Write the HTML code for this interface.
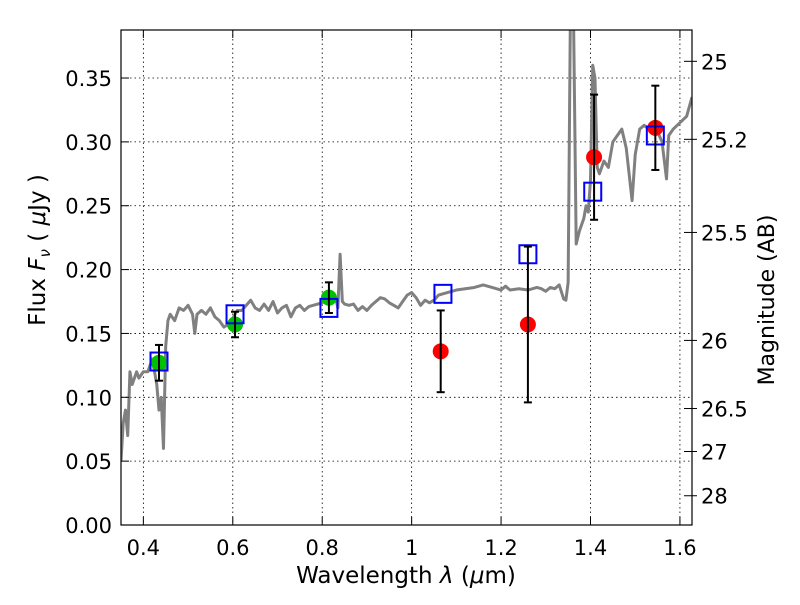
<!DOCTYPE html>
<html><head><meta charset="utf-8"><style>
body{margin:0;background:#fff}
svg text{font-family:"DejaVu Sans","Liberation Sans",sans-serif;fill:#000}
</style></head><body>
<svg id="chart" width="800" height="600" xmlns="http://www.w3.org/2000/svg">
<rect width="800" height="600" fill="#fff"/>
<g id="grid"></g>
<g id="marks"></g>
<rect x="121" y="30" width="571" height="495" fill="none" stroke="#000" stroke-width="1.2"/>
<g id="axes"></g>
<text x="406" y="583" font-size="23" text-anchor="middle">Wavelength  <tspan font-style="italic">λ</tspan> (<tspan font-style="italic">μ</tspan>m)</text>
<text transform="translate(45,250) rotate(-90)" font-size="23" text-anchor="middle">Flux  <tspan font-style="italic">F</tspan><tspan font-style="italic" font-size="15" dy="5">ν</tspan><tspan dy="-5">  (  </tspan><tspan font-style="italic">μ</tspan>Jy )</text>
<text transform="translate(774,300) rotate(-90)" font-size="22" text-anchor="middle">Magnitude (AB)</text>
</svg>
<script>
const xTicks=[0.4,0.6,0.8,1.0,1.2,1.4,1.6];
const xTickLabels=["0.4","0.6","0.8","1","1.2","1.4","1.6"];
const yTicks=[0,0.05,0.10,0.15,0.20,0.25,0.30,0.35];
const yTickLabels=["0.00","0.05","0.10","0.15","0.20","0.25","0.30","0.35"];
const magTicks=[25,25.2,25.5,26,26.5,27,28];
const magTickLabels=["25","25.2","25.5","26","26.5","27","28"];
const specX=[0.35,0.355,0.36,0.365,0.37,0.375,0.385,0.39,0.40,0.41,0.42,0.43,0.435,0.44,0.445,0.45,0.455,0.46,0.47,0.48,0.49,0.50,0.51,0.515,0.52,0.53,0.54,0.55,0.56,0.57,0.58,0.59,0.60,0.61,0.62,0.63,0.64,0.65,0.66,0.67,0.68,0.69,0.70,0.71,0.72,0.73,0.74,0.75,0.76,0.77,0.78,0.79,0.80,0.81,0.82,0.83,0.835,0.84,0.845,0.85,0.86,0.87,0.88,0.89,0.90,0.91,0.92,0.93,0.94,0.95,0.96,0.97,0.98,0.99,1.00,1.01,1.02,1.03,1.04,1.05,1.06,1.07,1.08,1.10,1.12,1.14,1.16,1.18,1.20,1.21,1.22,1.24,1.26,1.28,1.29,1.30,1.31,1.32,1.33,1.34,1.345,1.35,1.355,1.362,1.368,1.375,1.385,1.39,1.395,1.40,1.405,1.41,1.415,1.42,1.43,1.44,1.45,1.46,1.47,1.48,1.493,1.50,1.51,1.52,1.53,1.54,1.55,1.56,1.57,1.575,1.585,1.60,1.615,1.627];
const specY=[0.05,0.08,0.09,0.07,0.12,0.11,0.12,0.115,0.12,0.12,0.13,0.11,0.09,0.10,0.06,0.14,0.16,0.165,0.16,0.17,0.168,0.172,0.165,0.15,0.165,0.168,0.165,0.17,0.163,0.16,0.155,0.157,0.162,0.168,0.168,0.172,0.176,0.17,0.168,0.173,0.168,0.175,0.166,0.17,0.172,0.163,0.17,0.172,0.168,0.171,0.172,0.173,0.174,0.177,0.177,0.178,0.17,0.212,0.175,0.173,0.172,0.173,0.168,0.171,0.168,0.172,0.175,0.178,0.177,0.174,0.172,0.170,0.175,0.180,0.182,0.178,0.172,0.176,0.174,0.176,0.180,0.181,0.182,0.184,0.185,0.186,0.188,0.186,0.184,0.187,0.184,0.185,0.184,0.186,0.185,0.183,0.186,0.185,0.188,0.177,0.176,0.19,0.40,0.40,0.22,0.23,0.24,0.25,0.245,0.27,0.36,0.35,0.28,0.275,0.285,0.28,0.30,0.305,0.31,0.295,0.254,0.29,0.31,0.313,0.31,0.313,0.308,0.30,0.271,0.305,0.31,0.315,0.32,0.335];
const modelX=[0.435,0.605,0.815,1.07,1.26,1.405,1.545];
const modelY=[0.128,0.165,0.170,0.181,0.212,0.261,0.305];
const greenX=[0.435,0.605,0.815];
const greenY=[0.127,0.157,0.178];
const greenErr=[0.014,0.010,0.012];
const redX=[1.065,1.26,1.408,1.545];
const redY=[0.136,0.157,0.288,0.311];
const redErr=[0.032,0.061,0.049,0.033];

const NS="http://www.w3.org/2000/svg";
const X0=121,X1=692,Y0=525,Y1=30,xmin=0.35,xmax=1.627,ymin=0,ymax=0.3876;
const sx=v=>X0+(v-xmin)/(xmax-xmin)*(X1-X0);
const sy=v=>Y0-(v-ymin)/(ymax-ymin)*(Y0-Y1);
const magToFlux=m=>Math.pow(10,(23.9-m)/2.5);
function mk(tag,attrs,parent){const e=document.createElementNS(NS,tag);for(const k in attrs)e.setAttribute(k,attrs[k]);parent.appendChild(e);return e;}
const grid=document.getElementById('grid'),marks=document.getElementById('marks'),axes=document.getElementById('axes');

xTicks.forEach((t,i)=>{const x=sx(t);
 const g=mk('line',{x1:x,x2:x,y1:Y1,y2:Y0,stroke:'#000','stroke-dasharray':'1.5,3','stroke-width':0.8},grid);
 
 
 mk('line',{x1:x,x2:x,y1:Y0,y2:Y0-8,stroke:'#000'},axes);
 mk('line',{x1:x,x2:x,y1:Y1,y2:Y1+8,stroke:'#000'},axes);
 const tx=mk('text',{x:x,y:555,'font-size':21,'text-anchor':'middle'},axes);tx.textContent=xTickLabels[i];
 
 
});
yTicks.forEach((t,i)=>{const y=sy(t);
 const g=mk('line',{x1:X0,x2:X1,y1:y,y2:y,stroke:'#000','stroke-dasharray':'1.5,3','stroke-width':0.8},grid);
 
 
 mk('line',{x1:X0,x2:X0+8,y1:y,y2:y,stroke:'#000'},axes);
 const tx=mk('text',{x:112,y:y+8,'font-size':21,'text-anchor':'end'},axes);tx.textContent=yTickLabels[i];
 
 
});
magTicks.forEach((m,i)=>{const y=sy(magToFlux(m));
 mk('line',{x1:X1,x2:X1-8,y1:y,y2:y,stroke:'#000'},axes);
 mk('line',{x1:X1,x2:X1+5,y1:y,y2:y,stroke:'#000'},axes);
 const tx=mk('text',{x:701,y:y+8,'font-size':21},axes);tx.textContent=magTickLabels[i];
 
 
});
const clip=mk('clipPath',{id:'pc'},mk('defs',{},marks));mk('rect',{x:X0,y:Y1,width:X1-X0,height:Y0-Y1},clip);
const sp=mk('polyline',{points:specX.map((v,i)=>sx(v)+','+sy(specY[i])).join(' '),fill:'none',stroke:'#808080','stroke-width':3,'stroke-linejoin':'round','clip-path':'url(#pc)'},marks);


function err(x,y,e){const X=sx(x);
 mk('line',{x1:X,x2:X,y1:sy(y-e),y2:sy(y+e),stroke:'#000','stroke-width':2},marks);
 mk('line',{x1:X-4,x2:X+4,y1:sy(y-e),y2:sy(y-e),stroke:'#000','stroke-width':2},marks);
 mk('line',{x1:X-4,x2:X+4,y1:sy(y+e),y2:sy(y+e),stroke:'#000','stroke-width':2},marks);}
greenX.forEach((x,i)=>{const c=mk('circle',{cx:sx(x),cy:sy(greenY[i]),r:8,fill:'#00c000'},marks);
 
 });
redX.forEach((x,i)=>{const c=mk('circle',{cx:sx(x),cy:sy(redY[i]),r:8,fill:'#ff0000'},marks);
 
 });
modelX.forEach((x,i)=>{const r=mk('rect',{x:sx(x)-8.5,y:sy(modelY[i])-9,width:17,height:18,fill:'none',stroke:'#0000ff','stroke-width':2},marks);
 
 });
greenX.forEach((x,i)=>err(x,greenY[i],greenErr[i]));
redX.forEach((x,i)=>err(x,redY[i],redErr[i]));
</script>
</body></html>
